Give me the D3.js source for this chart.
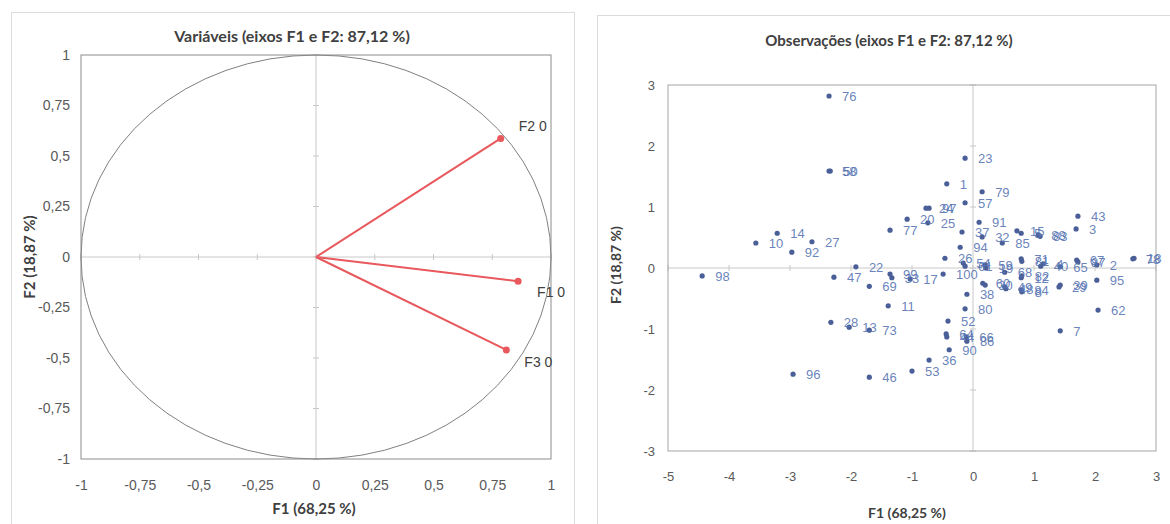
<!DOCTYPE html>
<html><head><meta charset="utf-8">
<script src="https://cdn.jsdelivr.net/npm/d3@7"></script>
<style>
html,body{margin:0;padding:0;background:#fff;}
svg{display:block;}
</style></head>
<body>
<svg id="chart" width="1170" height="524"></svg>
<script>
// ---------- DATA ----------
const titleLeft = "Variáveis (eixos F1 e F2: 87,12 %)";
const titleRight = "Observações (eixos F1 e F2: 87,12 %)";
const axisX = "F1 (68,25 %)";
const axisY = "F2 (18,87 %)";

const varLabels = ["F2 0", "F1 0", "F3 0"];
const varF1 = [0.786, 0.86, 0.81];
const varF2 = [0.587, -0.12, -0.46];

const leftTicks = [-1, -0.75, -0.5, -0.25, 0, 0.25, 0.5, 0.75, 1];
const rightXTicks = [-5, -4, -3, -2, -1, 0, 1, 2, 3];
const rightYTicks = [-3, -2, -1, 0, 1, 2, 3];

const obsLabels = ["76","58","50","23","1","79","57","24","97","20","25","77","91","37","32","85","15","5","88","83","3","43",
  "14","10","92","27","94","26","22","47","69","99","33","17","100","98","11","28","13","73","96","46","53","36","90",
  "66","86","64","44","52","80","38","54","61","59","19","60","30","68","49","48","81","71","82","12","8","84","40","4",
  "65","29","39","67","87","2","95","62","7","78","18"];
const obsF1 = [-2.36,-2.36,-2.34,-0.13,-0.43,0.15,-0.13,-0.77,-0.72,-1.08,-0.74,-1.36,0.10,-0.18,0.15,0.48,0.72,0.79,1.07,1.10,1.69,1.72,
  -3.21,-3.56,-2.97,-2.64,-0.21,-0.46,-1.92,-2.28,-1.70,-1.36,-1.33,-1.03,-0.49,-4.44,-1.39,-2.33,-2.03,-1.70,-2.95,-1.70,-1.00,-0.72,-0.39,
  -0.11,-0.10,-0.44,-0.43,-0.41,-0.13,-0.10,-0.16,-0.13,0.20,0.21,0.16,0.20,0.52,0.52,0.54,0.80,0.79,0.80,0.79,0.80,0.79,1.11,1.15,
  1.43,1.41,1.43,1.70,1.72,2.03,2.03,2.05,1.43,2.62,2.64];
const obsF2 = [2.82,1.59,1.59,1.80,1.38,1.25,1.07,0.98,0.98,0.80,0.74,0.62,0.75,0.59,0.51,0.41,0.61,0.57,0.54,0.52,0.64,0.85,
  0.57,0.41,0.26,0.43,0.34,0.16,0.02,-0.15,-0.30,-0.10,-0.16,-0.18,-0.10,-0.13,-0.62,-0.89,-0.97,-1.02,-1.74,-1.79,-1.69,-1.51,-1.34,
  -1.13,-1.20,-1.08,-1.13,-0.87,-0.67,-0.43,0.08,0.03,0.05,0.00,-0.25,-0.28,-0.07,-0.31,-0.34,0.11,0.15,-0.13,-0.16,-0.39,-0.36,0.03,0.07,
  0.02,-0.31,-0.28,0.13,0.10,0.05,-0.20,-0.69,-1.03,0.15,0.16];

// ---------- DRAW ----------
const svg = d3.select("#chart");
const fmt = d => String(d).replace(".", ",");
const tickFont = "'Liberation Sans', Arial, sans-serif";
const titleFont = "Lato, 'Open Sans', sans-serif";

// panel frames
svg.append("rect").attr("x", 11.5).attr("y", 12.5).attr("width", 563).attr("height", 530)
  .attr("fill", "none").attr("stroke", "#dcdcdc");
svg.append("rect").attr("x", 597.5).attr("y", 15.5).attr("width", 590).attr("height", 530)
  .attr("fill", "none").attr("stroke", "#dcdcdc");

// ===== LEFT: correlation circle =====
const lx = d3.scaleLinear().domain([-1, 1]).range([81, 551]);
const ly = d3.scaleLinear().domain([-1, 1]).range([459, 55]);
const L = svg.append("g");

L.append("line").attr("x1", lx(-1)).attr("x2", lx(1)).attr("y1", ly(0)).attr("y2", ly(0))
  .attr("stroke", "#c8c8c8").attr("stroke-width", 1);
L.append("line").attr("x1", lx(0)).attr("x2", lx(0)).attr("y1", ly(-1)).attr("y2", ly(1))
  .attr("stroke", "#c8c8c8").attr("stroke-width", 1);
L.selectAll(".lxt").data(leftTicks).enter().append("line")
  .attr("x1", d => lx(d)).attr("x2", d => lx(d)).attr("y1", ly(0) - 3).attr("y2", ly(0) + 3)
  .attr("stroke", "#c8c8c8");
L.selectAll(".lyt").data(leftTicks).enter().append("line")
  .attr("y1", d => ly(d)).attr("y2", d => ly(d)).attr("x1", lx(0) - 3).attr("x2", lx(0) + 3)
  .attr("stroke", "#c8c8c8");

L.append("ellipse").attr("cx", lx(0)).attr("cy", ly(0))
  .attr("rx", lx(1) - lx(0)).attr("ry", ly(-1) - ly(0))
  .attr("fill", "none").attr("stroke", "#808080").attr("stroke-width", 1);

L.append("rect").attr("x", lx(-1)).attr("y", ly(1)).attr("width", lx(1) - lx(-1)).attr("height", ly(-1) - ly(1))
  .attr("fill", "none").attr("stroke", "#8c8c8c").attr("stroke-width", 1);

const lAxisB = d3.axisBottom(lx).tickValues(leftTicks).tickFormat(fmt).tickSize(0).tickPadding(0);
const gxb = L.append("g").attr("transform", `translate(0,${ly(-1) + 21})`).call(lAxisB);
const lAxisL = d3.axisLeft(ly).tickValues(leftTicks).tickFormat(fmt).tickSize(0).tickPadding(0);
const gyl = L.append("g").attr("transform", `translate(${lx(-1) - 11},0)`).call(lAxisL);
[gxb, gyl].forEach(g => {
  g.select(".domain").remove();
  g.selectAll("text").attr("font-family", tickFont).attr("font-size", 14).attr("fill", "#595959");
});

const red = "#e8585c";
varLabels.forEach((lab, i) => {
  L.append("line").attr("x1", lx(0)).attr("y1", ly(0)).attr("x2", lx(varF1[i])).attr("y2", ly(varF2[i]))
    .attr("stroke", red).attr("stroke-width", 2);
  L.append("circle").attr("cx", lx(varF1[i])).attr("cy", ly(varF2[i])).attr("r", 3.5).attr("fill", red);
});
const varLabelOffset = [[18, -7], [19, 16], [18, 17]];
varLabels.forEach((lab, i) => {
  L.append("text").attr("x", lx(varF1[i]) + varLabelOffset[i][0]).attr("y", ly(varF2[i]) + varLabelOffset[i][1])
    .attr("font-family", tickFont).attr("font-size", 14).attr("fill", "#404040")
    .style("white-space", "pre").text(lab);
});

L.append("text").attr("x", 292).attr("y", 42).attr("text-anchor", "middle")
  .attr("font-family", titleFont).attr("font-weight", "bold").attr("font-size", 16).attr("fill", "#404040").text(titleLeft);
L.append("text").attr("x", 314).attr("y", 514).attr("text-anchor", "middle")
  .attr("font-family", titleFont).attr("font-weight", "bold").attr("font-size", 15).attr("fill", "#404040").text(axisX);
L.append("text").attr("transform", "translate(35,257) rotate(-90)").attr("text-anchor", "middle")
  .attr("font-family", titleFont).attr("font-weight", "bold").attr("font-size", 15).attr("fill", "#404040").text(axisY);

// ===== RIGHT: observations =====
const rx = d3.scaleLinear().domain([-5, 3]).range([668, 1156]);
const ry = d3.scaleLinear().domain([-3, 3]).range([451, 85]);
const R = svg.append("g");

R.append("line").attr("x1", rx(-5)).attr("x2", rx(3)).attr("y1", ry(0)).attr("y2", ry(0))
  .attr("stroke", "#c8c8c8");
R.append("line").attr("x1", rx(0)).attr("x2", rx(0)).attr("y1", ry(-3)).attr("y2", ry(3))
  .attr("stroke", "#c8c8c8");
R.selectAll(".rxt").data(rightXTicks).enter().append("line")
  .attr("x1", d => rx(d)).attr("x2", d => rx(d)).attr("y1", ry(0) - 3).attr("y2", ry(0) + 3).attr("stroke", "#c8c8c8");
R.selectAll(".ryt").data(rightYTicks).enter().append("line")
  .attr("y1", d => ry(d)).attr("y2", d => ry(d)).attr("x1", rx(0) - 3).attr("x2", rx(0) + 3).attr("stroke", "#c8c8c8");
R.append("rect").attr("x", rx(-5)).attr("y", ry(3)).attr("width", rx(3) - rx(-5)).attr("height", ry(-3) - ry(3))
  .attr("fill", "none").attr("stroke", "#a6a6a6");

const intFmt = d => String(d);
const rAxisB = d3.axisBottom(rx).tickValues(rightXTicks).tickFormat(intFmt).tickSize(0).tickPadding(0);
const rgx = R.append("g").attr("transform", `translate(0,${ry(-3) + 21})`).call(rAxisB);
const rAxisL = d3.axisLeft(ry).tickValues(rightYTicks).tickFormat(intFmt).tickSize(0).tickPadding(0);
const rgy = R.append("g").attr("transform", `translate(${rx(-5) - 13},0)`).call(rAxisL);
[rgx, rgy].forEach(g => {
  g.select(".domain").remove();
  g.selectAll("text").attr("font-family", tickFont).attr("font-size", 13).attr("fill", "#595959");
});

const obs = obsLabels.map((l, i) => ({ l, x: obsF1[i], y: obsF2[i] }));
R.selectAll(".pt").data(obs).enter().append("circle")
  .attr("cx", d => rx(d.x)).attr("cy", d => ry(d.y)).attr("r", 2.6).attr("fill", "#4a5f98");
R.selectAll(".lab").data(obs).enter().append("text")
  .attr("x", d => rx(d.x) + 13).attr("y", d => ry(d.y) + 5)
  .attr("font-family", tickFont).attr("font-size", 13).attr("fill", "#5674b3").attr("fill-opacity", 0.9)
  .text(d => d.l);

R.append("text").attr("x", 889).attr("y", 46).attr("text-anchor", "middle")
  .attr("font-family", titleFont).attr("font-weight", "bold").attr("font-size", 15).attr("fill", "#404040").text(titleRight);
R.append("text").attr("x", 907).attr("y", 518).attr("text-anchor", "middle")
  .attr("font-family", titleFont).attr("font-weight", "bold").attr("font-size", 14).attr("fill", "#404040").text(axisX);
R.append("text").attr("transform", "translate(621,265) rotate(-90)").attr("text-anchor", "middle")
  .attr("font-family", titleFont).attr("font-weight", "bold").attr("font-size", 14).attr("fill", "#404040").text(axisY);
</script>
</body></html>
